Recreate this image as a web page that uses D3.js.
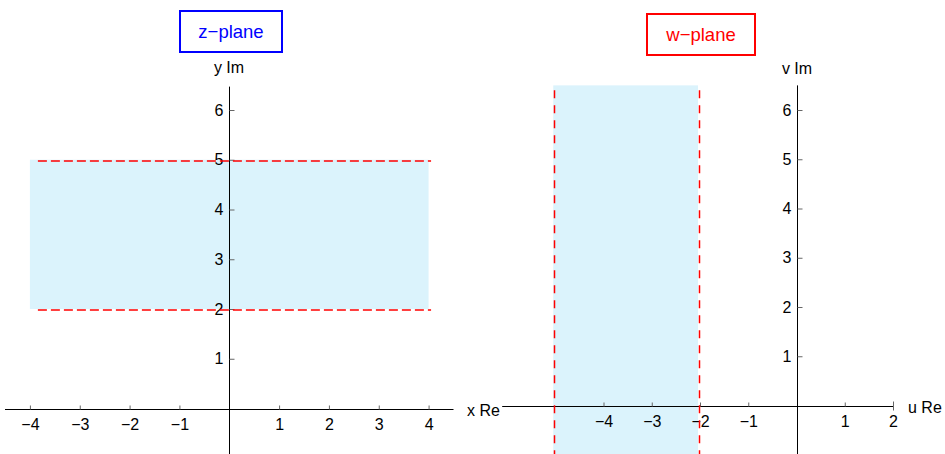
<!DOCTYPE html>
<html lang="">
  <head>
    <meta charset="utf-8">
    <title>z-plane / w-plane</title>
    <style type="text/css">
      body{
        margin: 0;
        background-color: white;
      }
      svg text{
        font-family: "Liberation Sans", Arial, sans-serif;
      }
    </style>
  </head>
  <body>
    <div id='svg_container'></div>

    <script src="https://d3js.org/d3.v7.min.js"></script>
    <script type="text/javascript">

      // z-plane: strip 2 < y < 5, -4 < x < 4
      const zStripX = [-4, 4];
      const zStripY = [2, 5];
      const zTicksX = [-4, -3, -2, -1, 1, 2, 3, 4];
      const zTicksY = [1, 2, 3, 4, 5, 6];

      // w-plane: strip -5 < u < -2
      const wStripU = [-5, -2];
      const wTicksU = [-4, -3, -2, -1, 1, 2];
      const wTicksV = [1, 2, 3, 4, 5, 6];

      const W = 945, H = 454;
      const stripFill = '#dbf3fc';
      const dashColor = '#ff0000';

      const svg = d3.select('#svg_container').append('svg').attr('width', W).attr('height', H);

      function px(v){ return Math.round(v) + 0.5; }

      function drawAxes(g, sx, sy, xTicks, yTicks, xExt, yExt, xLabel, yLabel){
        g.append('line').attr('x1', sx(xExt[0])).attr('x2', sx(xExt[1]))
          .attr('y1', px(sy(0))).attr('y2', px(sy(0))).attr('stroke', '#000').attr('stroke-width', 1);
        g.append('line').attr('x1', px(sx(0))).attr('x2', px(sx(0)))
          .attr('y1', sy(yExt[0])).attr('y2', sy(yExt[1])).attr('stroke', '#000').attr('stroke-width', 1);

        var xAxis = d3.axisBottom(sx).tickValues(xTicks).tickFormat(d3.format('d'))
          .tickSize(-4).tickPadding(9).tickSizeOuter(0);
        var yAxis = d3.axisLeft(sy).tickValues(yTicks).tickFormat(d3.format('d'))
          .tickSize(-5).tickPadding(6).tickSizeOuter(0);

        var gx = g.append('g').attr('class', 'xaxis').attr('transform', 'translate(0,' + px(sy(0)) + ')').call(xAxis);
        var gy = g.append('g').attr('class', 'yaxis').attr('transform', 'translate(' + px(sx(0)) + ',0)').call(yAxis);
        [gx, gy].forEach(function(a){
          a.select('.domain').remove();
          a.selectAll('.tick line').attr('stroke', '#666');
          a.selectAll('.tick text').attr('fill', '#000').style('font-size', '16px');
        });

        g.append('text').attr('x', xLabel.x).attr('y', xLabel.y).text(xLabel.t)
          .style('font-size', '16px').attr('dy', '0.35em');
        g.append('text').attr('x', yLabel.x).attr('y', yLabel.y).text(yLabel.t)
          .style('font-size', '16px').attr('text-anchor', 'middle').attr('dy', '0.35em');
      }

      function titleBox(g, x0, y0, w, h, text, color){
        g.append('rect').attr('x', x0).attr('y', y0).attr('width', w).attr('height', h)
          .attr('fill', 'white').attr('stroke', color).attr('stroke-width', 2);
        g.append('text').attr('x', x0 + w / 2).attr('y', y0 + h / 2).attr('dy', '0.35em')
          .attr('text-anchor', 'middle').attr('fill', color).style('font-size', '18.5px').text(text);
      }

      // ---- left: z-plane
      var zx = d3.scaleLinear().domain([-4.5, 4.5]).range([5, 453.5]);
      var zy = d3.scaleLinear().domain([0, 6]).range([408.5, 110]);
      var gz = svg.append('g');

      gz.append('rect').attr('x', zx(zStripX[0])).attr('width', zx(zStripX[1]) - zx(zStripX[0]))
        .attr('y', zy(zStripY[1])).attr('height', zy(zStripY[0]) - zy(zStripY[1])).attr('fill', stripFill);

      drawAxes(gz, zx, zy, zTicksX, zTicksY, [-4.5, 4.5], [-1, 6.47],
        {x: 467, y: 410, t: 'x Re'}, {x: 229, y: 67, t: 'y Im'});

      zStripY.forEach(function(v){
        var y = Math.round(zy(v)) + 1;
        gz.append('line').attr('x1', zx(-3.84)).attr('x2', zx(4.05)).attr('y1', y).attr('y2', y)
          .attr('stroke', dashColor).attr('stroke-dasharray', '9,4').attr('stroke-width', 1.5);
      });

      titleBox(gz, 180, 11, 102, 41, 'z\u2212plane', '#0000ff');

      // ---- right: w-plane
      var wx = d3.scaleLinear().domain([-4, 2]).range([603.5, 893]);
      var wy = d3.scaleLinear().domain([0, 6]).range([405.5, 110]);
      var gw = svg.append('g');

      gw.append('rect').attr('x', wx(wStripU[0]) - 2).attr('width', wx(wStripU[1]) - wx(wStripU[0]))
        .attr('y', wy(6.5)).attr('height', wy(-1.05) - wy(6.5)).attr('fill', stripFill);

      drawAxes(gw, wx, wy, wTicksU, wTicksV, [-6.1, 2], [-1.05, 6.5],
        {x: 908, y: 407, t: 'u Re'}, {x: 797, y: 68, t: 'v Im'});
      // end tick at u = 2 goes through the axis line
      gw.select('.xaxis').selectAll('.tick line').filter(function(d){ return d === 2; })
        .attr('y1', -5).attr('y2', 4);

      wStripU.forEach(function(v){
        var x = Math.round(wx(v)) - 0.5;
        gw.append('line').attr('x1', x).attr('x2', x).attr('y1', wy(6.4)).attr('y2', wy(-1.05))
          .attr('stroke', dashColor).attr('stroke-dasharray', '8,7').attr('stroke-width', 1.5);
      });

      titleBox(gw, 647, 14, 108, 41, 'w\u2212plane', '#ff0000');

    </script>
  </body>
</html>
